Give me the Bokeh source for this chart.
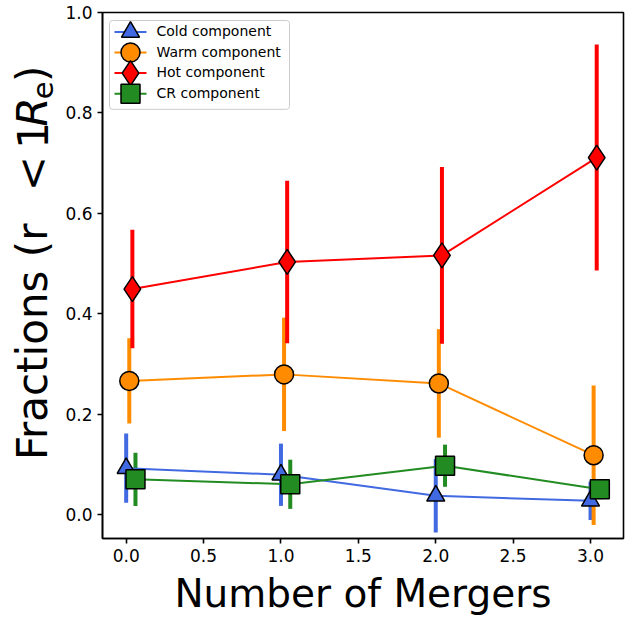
import math
from bokeh.plotting import figure
from bokeh.layouts import row
from bokeh.models import Range1d, FixedTicker, PrintfTickFormatter, Label, ColumnDataSource
from bokeh.core.properties import value
from bokeh.embed import file_html
from bokeh.resources import INLINE

# ---------------- data ----------------
mergers = [0, 1, 2, 3]

cold = [0.092, 0.079, 0.037, 0.027]
cold_err = [0.069, 0.062, 0.073, 0.038]

warm = [0.266, 0.279, 0.261, 0.118]
warm_err = [0.085, 0.113, 0.108, 0.139]

hot = [0.449, 0.503, 0.516, 0.711]
hot_err = [0.118, 0.162, 0.176, 0.225]

cr = [0.070, 0.060, 0.097, 0.050]
cr_err = [0.053, 0.049, 0.042, 0.020]

series_names = ["Cold component", "Warm component", "Hot component", "CR component"]
series_vals = [cold, warm, hot, cr]
series_errs = [cold_err, warm_err, hot_err, cr_err]
series_dodge = [0.0, 0.02, 0.04, 0.06]

x_ticks = [0.0, 0.5, 1.0, 1.5, 2.0, 2.5, 3.0]
y_ticks = [0.0, 0.2, 0.4, 0.6, 0.8, 1.0]

# ---------------- styles ----------------
colors = ["#4169E1", "#FF8C00", "#FF0000", "#228B22"]
markers = ["triangle", "circle", "diamond", "square"]
msizes = [18, 19, 25, 19]
FONT = "DejaVu Sans"

LW = 60            # width of the y-label strip
FW, FH = 521, 527  # frame size
H = 618

p = figure(width=630 - LW, height=H,
           min_border_left=102 - LW, min_border_right=630 - LW - (102 - LW) - FW,
           min_border_top=12, min_border_bottom=H - 12 - FH,
           x_range=Range1d(-0.153, 3.213), y_range=Range1d(-0.048, 1.0),
           output_backend="svg", toolbar_location=None)
p.extra_x_ranges = {"px": Range1d(0, FW)}
p.extra_y_ranges = {"py": Range1d(0, FH)}

p.grid.visible = False
p.outline_line_color = "black"
p.outline_line_width = 1.6
p.background_fill_color = "white"
p.border_fill_color = "white"

for ax in (p.xaxis[0], p.yaxis[0]):
    ax.axis_line_color = "black"
    ax.axis_line_width = 1.6
    ax.major_tick_line_color = "black"
    ax.major_tick_line_width = 1.6
    ax.major_tick_out = 5
    ax.major_tick_in = 0
    ax.minor_tick_line_color = None
    ax.major_label_text_font = FONT
    ax.major_label_text_font_size = "17px"
    ax.major_label_text_color = "black"
    ax.formatter = PrintfTickFormatter(format="%.1f")

p.xaxis[0].ticker = FixedTicker(ticks=x_ticks)
p.yaxis[0].ticker = FixedTicker(ticks=y_ticks)
p.xaxis[0].major_label_standoff = 5
p.yaxis[0].major_label_standoff = 5

p.xaxis[0].axis_label = "Number of Mergers"
p.xaxis[0].axis_label_text_font = FONT
p.xaxis[0].axis_label_text_font_size = "39px"
p.xaxis[0].axis_label_text_font_style = "normal"
p.xaxis[0].axis_label_text_color = "black"
p.xaxis[0].axis_label_standoff = 6

# ---------------- error bars (all below lines/markers) ----------------
for vals, errs, dx, col in zip(series_vals, series_errs, series_dodge, colors):
    xs = [m + dx for m in mergers]
    src = ColumnDataSource(dict(x=xs,
                                lo=[v - e for v, e in zip(vals, errs)],
                                hi=[v + e for v, e in zip(vals, errs)]))
    p.segment(x0="x", y0="lo", x1="x", y1="hi", source=src,
              line_color=col, line_width=4)

# ---------------- lines + markers ----------------
for vals, dx, col, mk, ms in zip(series_vals, series_dodge, colors, markers, msizes):
    xs = [m + dx for m in mergers]
    src = ColumnDataSource(dict(x=xs, y=vals))
    p.line("x", "y", source=src, line_color=col, line_width=2)
    p.scatter("x", "y", source=src, marker=mk, size=ms, fill_color=col,
              line_color="black", line_width=1.5)

# ---------------- legend (drawn in frame pixels) ----------------
p.quad(left=[7], right=[187], bottom=[430], top=[519],
       x_range_name="px", y_range_name="py",
       fill_color="white", fill_alpha=0.8, line_color="#cccccc", line_width=1,
       border_radius=3)
row_top, row_pitch = 507.5, 20.6
for i, (name, col, mk, ms) in enumerate(zip(series_names, colors, markers, msizes)):
    yy = row_top - i * row_pitch
    p.line(x=[12, 44], y=[yy, yy], x_range_name="px", y_range_name="py",
           line_color=col, line_width=2)
    p.scatter(x=[28], y=[yy], x_range_name="px", y_range_name="py",
              marker=mk, size=ms, fill_color=col, line_color="black", line_width=1.5)
    p.add_layout(Label(x=54, y=yy, x_units="screen", y_units="screen", text=name,
                       text_font=FONT, text_font_size="14px", text_color="black",
                       text_baseline="middle", text_align="left"))

# ---------------- y axis label strip (with math-like R_e) ----------------
lab = figure(width=LW, height=H, min_border=0,
             x_range=Range1d(0, LW), y_range=Range1d(0, H),
             x_axis_location=None, y_axis_location=None,
             output_backend="svg", toolbar_location=None)
lab.grid.visible = False
lab.outline_line_color = None
lab.background_fill_color = "white"
lab.border_fill_color = "white"

YFS = 42
base_main, base_sub = 46, 52          # wanted baselines (px from left)
start_px = H - 466                    # wanted start of text (px from bottom)
adv = {"Fractions (r": 5.705, "<": 0.838, "1": 0.636, "R": 0.695, "e": 0.615, ")": 0.390}
gap = {"Fractions (r": 0.0, "<": 0.60, "1": 0.30, "R": 0.0, "e": 0.0, ")": 0.05}
pieces = [("Fractions (r", "normal", YFS), ("<", "normal", YFS), ("1", "normal", YFS),
          ("R", "italic", YFS), ("e", "normal", int(YFS * 0.7)), (")", "normal", YFS)]
pos = start_px
for txt, style, fs in pieces:
    pos += gap[txt] * YFS
    L = adv[txt] * fs
    base = base_sub if txt == "e" else base_main
    # compensate the rotated-text anchoring seen in the renderer
    lab.text(x=[base - 0.33 * fs], y=[pos - L / 4], text=[txt], angle=math.pi / 2,
             text_font=value(FONT), text_font_size=f"{fs}px", text_font_style=style,
             text_color="black", text_baseline="alphabetic", text_align="left")
    pos += L

layout = row(lab, p, spacing=0)
open("out.html", "w").write(file_html(layout, INLINE))
